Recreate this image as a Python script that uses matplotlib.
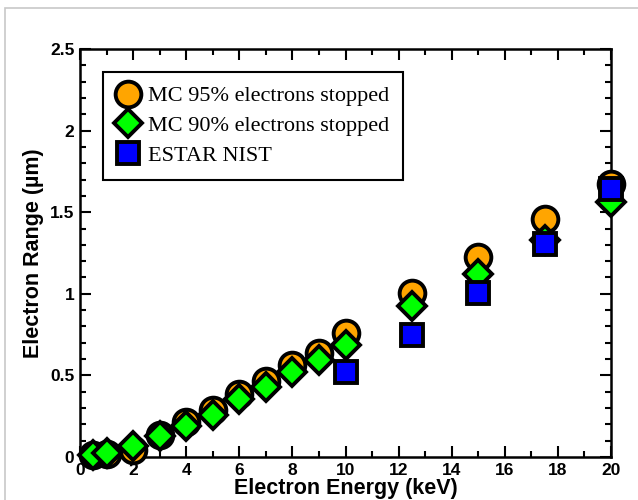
import matplotlib
matplotlib.use('Agg')
import matplotlib.pyplot as plt
from matplotlib.patches import Rectangle
from matplotlib.ticker import MultipleLocator

# electron energy (keV)
energy_mc = [0.5, 1, 2, 3, 4, 5, 6, 7, 8, 9, 10, 12.5, 15, 17.5, 20]
range_95 = [0.01, 0.02, 0.045, 0.135, 0.215, 0.29, 0.385, 0.465, 0.565, 0.64,
            0.757, 1.005, 1.225, 1.46, 1.675]
range_90 = [0.01, 0.022, 0.065, 0.128, 0.19, 0.257, 0.353, 0.428, 0.52, 0.595,
            0.685, 0.923, 1.123, 1.33, 1.56]

energy_nist = [10, 12.5, 15, 17.5, 20]
range_nist = [0.522, 0.746, 1.005, 1.307, 1.643]

fig = plt.figure(figsize=(6.38, 5.0), dpi=100)
ax = fig.add_axes([80 / 638, 1 - 457 / 500, 531 / 638, 408 / 500])

# grey page frame
fig.patches.append(Rectangle((4.5 / 638, -0.05), 1.2, 0.985 + 0.05,
                             transform=fig.transFigure, fill=False,
                             edgecolor='#c8c8c8', linewidth=1.2))

mk = dict(ls='none', mec='black', mew=2.8, clip_on=False, zorder=3)
ax.plot(energy_mc, range_95, marker='o', ms=18.5, mfc='#ffa500',
        label='MC 95% electrons stopped', **mk)
ax.plot(energy_mc, range_90, marker='D', ms=14.5, mfc='#00ff00',
        label='MC 90% electrons stopped', **mk)
ax.plot(energy_nist, range_nist, marker='s', ms=16, mfc='#0000ff',
        label='ESTAR NIST', **mk)

ax.set_xlim(0, 20)
ax.set_ylim(0, 2.5)
ax.xaxis.set_minor_locator(MultipleLocator(1))
ax.yaxis.set_minor_locator(MultipleLocator(0.1))
ax.set_xticks([0, 2, 4, 6, 8, 10, 12, 14, 16, 18, 20])
ax.set_xticklabels(['0', '2', '4', '6', '8', '10', '12', '14', '16', '18', '20'])
ax.set_yticks([0, 0.5, 1, 1.5, 2, 2.5])
ax.set_yticklabels(['0', '0.5', '1', '1.5', '2', '2.5'])

ax.tick_params(which='both', direction='in', top=True, right=True, width=1.5)
ax.tick_params(which='major', length=8, pad=4)
ax.tick_params(which='minor', length=4)
for lab in ax.get_xticklabels() + ax.get_yticklabels():
    lab.set_fontfamily('Liberation Sans')
    lab.set_fontweight('bold')
    lab.set_fontsize(12.5)
for sp in ax.spines.values():
    sp.set_linewidth(1.8)

ax.set_xlabel('Electron Energy (keV)', fontfamily='Liberation Sans',
              fontweight='bold', fontsize=15.5)
ax.xaxis.set_label_coords(0.5, -0.052)
ax.set_ylabel('Electron Range (\u00b5m)', fontfamily='Liberation Sans',
              fontweight='bold', fontsize=15.5)
ax.yaxis.set_label_coords(-0.067, 0.5)

leg = ax.legend(loc='upper left', bbox_to_anchor=(23 / 531, 1 - 23 / 408),
                borderaxespad=0, fancybox=False, edgecolor='black',
                framealpha=1, handlelength=1.0, handletextpad=0.4,
                labelspacing=0.42, borderpad=0.62,
                prop={'family': 'Liberation Serif', 'size': 16})
leg.get_frame().set_linewidth(1.5)

fig.savefig('out.png', dpi=100)
